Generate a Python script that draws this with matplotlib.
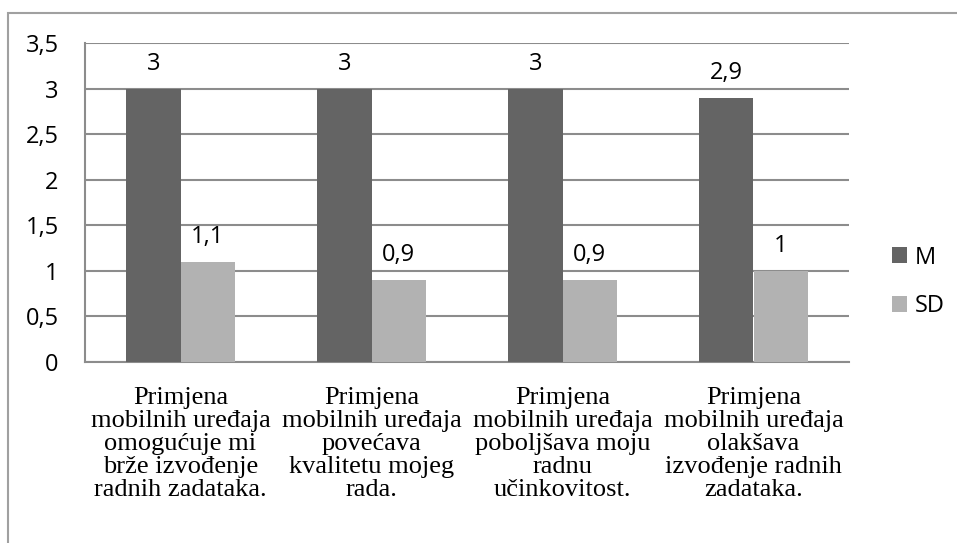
import numpy as np
import matplotlib.pyplot as plt
from matplotlib.patches import Rectangle

categories = [
    "Primjena\nmobilnih uređaja\nomogućuje mi\nbrže izvođenje\nradnih zadataka.",
    "Primjena\nmobilnih uređaja\npovećava\nkvalitetu mojeg\nrada.",
    "Primjena\nmobilnih uređaja\npoboljšava moju\nradnu\nučinkovitost.",
    "Primjena\nmobilnih uređaja\nolakšava\nizvođenje radnih\nzadataka.",
]
m_values = [3, 3, 3, 2.9]
sd_values = [1.1, 0.9, 0.9, 1.0]
series_names = ["M", "SD"]
y_ticks = [0, 0.5, 1, 1.5, 2, 2.5, 3, 3.5]


def fmt(v):
    s = ("%g" % v).replace(".", ",")
    return s


fig = plt.figure(figsize=(9.57, 5.43), dpi=100)
ax = fig.add_axes([85 / 957, 1 - 362 / 543, (849 - 85) / 957, (362 - 43) / 543])

x = np.arange(len(categories))
w = 0.283
b1 = ax.bar(x - w / 2, m_values, w, color="#646464", label=series_names[0], zorder=3)
b2 = ax.bar(x + w / 2, sd_values, w, color="#b2b2b2", label=series_names[1], zorder=3)

for bars, vals in [(b1, m_values), (b2, sd_values)]:
    for r, v in zip(bars, vals):
        ax.annotate(fmt(v), (r.get_x() + r.get_width() / 2, v),
                    xytext=(0, 18), textcoords="offset points",
                    ha="center", va="center", fontsize=17, family="Open Sans")

ax.set_xlim(-0.5, len(categories) - 0.5)
ax.set_ylim(0, 3.5)
ax.set_yticks(y_ticks)
ax.set_yticklabels([fmt(t) for t in y_ticks], family="Open Sans", fontsize=17)
ax.yaxis.grid(True, color="#8c8c8c", lw=1.5, zorder=0)
ax.tick_params(axis="y", length=0, pad=19)
ax.tick_params(axis="x", length=0, pad=18)
ax.set_xticks(x)
ax.set_xticklabels(categories, family="Liberation Serif", fontsize=19,
                   linespacing=1.06, va="top", ha="center")

for s in ["top", "right"]:
    ax.spines[s].set_visible(False)
for s in ["left", "bottom"]:
    ax.spines[s].set_color("#8c8c8c")
    ax.spines[s].set_linewidth(1.5)

leg = ax.legend(loc="center left", bbox_to_anchor=(892 / 957, 1 - 282 / 543),
                bbox_transform=fig.transFigure, frameon=False,
                prop={"family": "Open Sans", "size": 17},
                handlelength=0.65, handleheight=0.65, handletextpad=0.3,
                labelspacing=1.05, borderaxespad=0, borderpad=0)

fig.patches.append(Rectangle((8 / 957, -0.1), 2, 1 - 13 / 543 + 0.1,
                             transform=fig.transFigure, fill=False,
                             edgecolor="#a0a0a0", lw=1.5))

fig.savefig("out.png", dpi=100)
